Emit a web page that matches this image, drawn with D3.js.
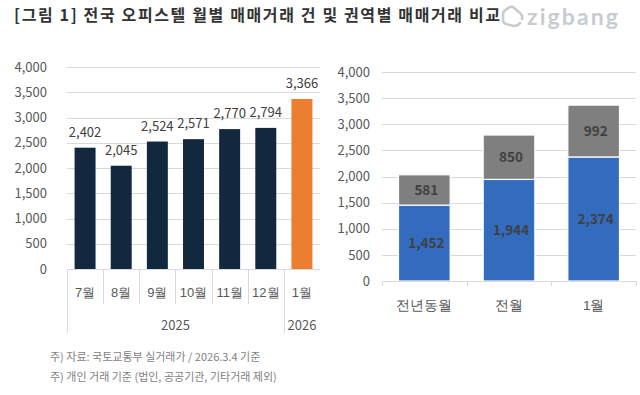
<!DOCTYPE html>
<html><head><meta charset="utf-8">
<script src="https://cdn.jsdelivr.net/npm/d3@7"></script>
<style>
html,body{margin:0;padding:0;background:#fff;}
svg{display:block;font-family:"Noto Sans CJK KR","Noto Sans",sans-serif;}
</style></head>
<body>
<svg id="c" width="640" height="395"></svg>
<script>
// ---- data ----
const titleText = "[그림 1] 전국 오피스텔 월별 매매거래 건 및 권역별 매매거래 비교";
const months = ["7월","8월","9월","10월","11월","12월","1월"];
const monthYears = ["2025","2025","2025","2025","2025","2025","2026"];
const monthValues = [2402,2045,2524,2571,2770,2794,3366];
const yearLabels = ["2025","2026"];
const yTicks = [0,500,1000,1500,2000,2500,3000,3500,4000];
const compareCats = ["전년동월","전월","1월"];
const lowerValues = [1452,1944,2374];
const upperValues = [581,850,992];
const notes = ["주) 자료: 국토교통부 실거래가 / 2026.3.4 기준","주) 개인 거래 기준 (법인, 공공기관, 기타거래 제외)"];

const svg = d3.select("#c");
const fmt = d3.format(",");
const gridC = "#d9d9d9", axisTxt = "#595959", lblTxt = "#404040";

// ---- title ----
svg.append("text").attr("x",14).attr("y",21).attr("font-size",16).attr("font-weight",700)
  .attr("fill","#333").attr("textLength",486).attr("lengthAdjust","spacing").text(titleText);

// ---- logo ----
const logo = svg.append("g").attr("fill","none").attr("stroke","#c8ccd1").attr("stroke-width",2.6).attr("stroke-linejoin","round").attr("stroke-linecap","round");
logo.append("path").attr("d","M507,9 Q510,6 513,7 L520,13 Q523,16 522,19 M520,23 Q518,26 514,26 L506,24 Q503,23 503,20 L503,13 Q504,10 507,9");
svg.append("text").attr("x",527).attr("y",25).attr("font-family","Lato, 'Open Sans', sans-serif")
  .attr("font-weight",700).attr("font-size",23).attr("fill","#c8ccd1").attr("textLength",91).text("zigbang");

// ---- left chart ----
const L = {x0:67, x1:320, y0:269, y1:67};
const xL = d3.scaleBand().domain(months).range([L.x0,L.x1]).paddingInner(0.42).paddingOuter(0.21);
const yL = d3.scaleLinear().domain([0,4000]).range([L.y0,L.y1]);
const gL = svg.append("g");
gL.selectAll("line.grid").data(yTicks.filter(d=>d>0)).join("line")
  .attr("x1",L.x0).attr("x2",L.x1).attr("y1",d=>Math.round(yL(d))+0.5).attr("y2",d=>Math.round(yL(d))+0.5)
  .attr("stroke",gridC);
const yAxL = d3.axisLeft(yL).tickValues(yTicks).tickFormat(fmt).tickSize(0).tickPadding(0);
const gyL = gL.append("g").attr("transform","translate(47,0)").call(yAxL);
gyL.select(".domain").remove();
gyL.selectAll("text").attr("font-size",13).attr("fill",axisTxt).attr("font-family","'Noto Sans CJK KR'");
gL.selectAll("rect.bar").data(months).join("rect")
  .attr("x",d=>xL(d)).attr("width",xL.bandwidth())
  .attr("y",(d,i)=>yL(monthValues[i])).attr("height",(d,i)=>L.y0-yL(monthValues[i]))
  .attr("fill",(d,i)=>monthYears[i]==="2026"?"#ED7D31":"#12283F");
gL.selectAll("text.val").data(months).join("text")
  .attr("x",d=>xL(d)+xL.bandwidth()/2).attr("y",(d,i)=>yL(monthValues[i])-11)
  .attr("text-anchor","middle").attr("font-size",13).attr("fill",lblTxt).text((d,i)=>fmt(monthValues[i]));
// x axis (multi-level)
const xAxL = d3.axisBottom(xL).tickSize(0).tickPadding(0);
const gxL = gL.append("g").attr("transform",`translate(0,${L.y0})`).call(xAxL);
gxL.select(".domain").remove();
gxL.selectAll("text").attr("dy",0).attr("y",28).attr("font-size",13).attr("fill",axisTxt);
gL.append("line").attr("x1",L.x0).attr("x2",L.x1).attr("y1",L.y0+0.5).attr("y2",L.y0+0.5).attr("stroke",gridC);
const step = xL.step();
const bounds = d3.range(months.length).map(i=>L.x0+i*step);
gL.selectAll("line.sep").data(bounds).join("line")
  .attr("x1",d=>Math.round(d)+0.5).attr("x2",d=>Math.round(d)+0.5).attr("y1",L.y0)
  .attr("y2",(d,i)=>(i===0||monthYears[i]!==monthYears[i-1])?333:304)
  .attr("stroke",gridC);
yearLabels.forEach(y=>{
  const idx = months.map((m,i)=>i).filter(i=>monthYears[i]===y);
  const a = xL(months[idx[0]]), b = xL(months[idx[idx.length-1]])+xL.bandwidth();
  gL.append("text").attr("x",(a+b)/2).attr("y",330).attr("text-anchor","middle")
    .attr("font-size",13).attr("fill",axisTxt).text(y);
});

// ---- right chart ----
const R = {x0:382, x1:636, y0:281, y1:72};
const xR = d3.scaleBand().domain(compareCats).range([R.x0,R.x1]).paddingInner(0.39).paddingOuter(0.195);
const yR = d3.scaleLinear().domain([0,4000]).range([R.y0,R.y1]);
const gR = svg.append("g");
gR.selectAll("line.grid").data(yTicks.filter(d=>d>0)).join("line")
  .attr("x1",R.x0).attr("x2",R.x1).attr("y1",d=>Math.round(yR(d))+0.5).attr("y2",d=>Math.round(yR(d))+0.5)
  .attr("stroke",gridC);
const gyR = gR.append("g").attr("transform","translate(370,0)").call(d3.axisLeft(yR).tickValues(yTicks).tickFormat(fmt).tickSize(0).tickPadding(0));
gyR.select(".domain").remove();
gyR.selectAll("text").attr("font-size",13).attr("fill",axisTxt).attr("font-family","'Noto Sans CJK KR'");
const stacked = d3.stack().keys(["lower","upper"])(compareCats.map((c,i)=>({cat:c, lower:lowerValues[i], upper:upperValues[i]})));
const colors = {lower:"#336BBE", upper:"#7F7F7F"};
stacked.forEach(layer=>{
  gR.selectAll(null).data(layer).join("rect")
    .attr("x",d=>xR(d.data.cat)).attr("width",xR.bandwidth())
    .attr("y",d=>yR(d[1])).attr("height",d=>yR(d[0])-yR(d[1]))
    .attr("fill",colors[layer.key]).attr("stroke","#fff").attr("stroke-width",1.2);
  gR.selectAll(null).data(layer).join("text")
    .attr("x",d=>xR(d.data.cat)+xR.bandwidth()/2+2).attr("y",d=>(yR(d[0])+yR(d[1]))/2+5)
    .attr("text-anchor","middle").attr("font-size",13.5).attr("font-weight",700).attr("fill",lblTxt)
    .text(d=>fmt(d[1]-d[0]));
});
gR.append("line").attr("x1",R.x0).attr("x2",R.x1).attr("y1",R.y0+0.5).attr("y2",R.y0+0.5).attr("stroke",gridC);
gR.selectAll("line.tick").data(d3.range(compareCats.length+1).map(i=>R.x0+i*xR.step())).join("line")
  .attr("x1",d=>Math.round(d)+0.5).attr("x2",d=>Math.round(d)+0.5).attr("y1",R.y0).attr("y2",R.y0+5).attr("stroke",gridC);
const gxR = gR.append("g").attr("transform",`translate(0,${R.y0})`).call(d3.axisBottom(xR).tickSize(0).tickPadding(0));
gxR.select(".domain").remove();
gxR.selectAll("text").attr("dy",0).attr("y",29).attr("font-size",13.5).attr("fill",axisTxt);

// ---- notes ----
svg.selectAll("text.note").data(notes).join("text").attr("class","note")
  .attr("x",50).attr("y",(d,i)=>361+i*20).attr("font-size",11).attr("fill","#7f7f7f").text(d=>d);
</script>
</body></html>
